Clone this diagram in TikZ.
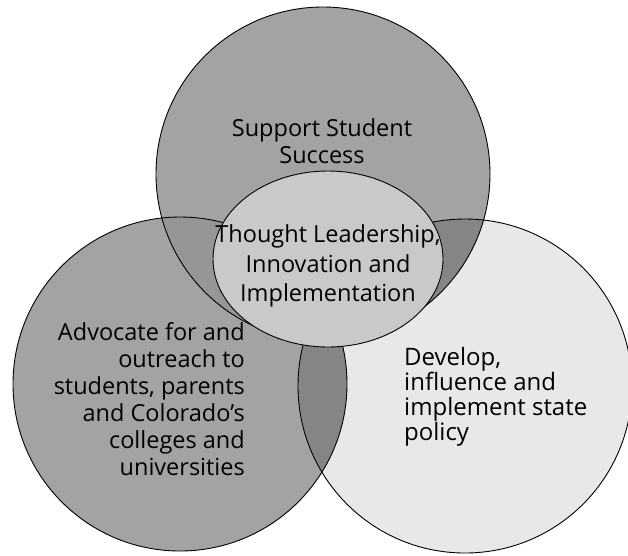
\documentclass[tikz,border=0pt]{standalone}
\usepackage{fontspec}
\setmainfont{Open Sans}
\begin{document}
\begin{tikzpicture}[x=1pt,y=-1pt,
  lbl/.style={inner sep=0pt,font=\fontsize{23.5}{27}\selectfont},
  topfill/.style={fill=black!36},
  leftfill/.style={fill=black!36},
  rightfill/.style={fill=black!9},
  lapfill/.style={fill=black!48},
  tlfill/.style={fill=black!41},
  ellfill/.style={fill=black!21},
  outline/.style={draw=black,line width=0.9pt}]
\useasboundingbox[fill=white] (0,0) rectangle (628,555);
\coordinate (ct) at (323,174);
\coordinate (cl) at (180,384);
\coordinate (cr) at (465,386);
\coordinate (ce) at (328,259);
% base fills
\fill[topfill] (ct) circle[radius=167pt];
\fill[leftfill] (cl) circle[radius=167pt];
\fill[rightfill] (cr) circle[radius=167pt];
% overlaps
\begin{scope}
  \clip (ct) circle[radius=167pt];
  \fill[tlfill] (cl) circle[radius=167pt];
  \fill[lapfill] (cr) circle[radius=167pt];
\end{scope}
\begin{scope}
  \clip (cl) circle[radius=167pt];
  \fill[lapfill] (cr) circle[radius=167pt];
\end{scope}
% outlines of circles
\draw[outline] (ct) circle[radius=167pt];
\draw[outline] (cl) circle[radius=167pt];
\draw[outline] (cr) circle[radius=167pt];
% central ellipse
\fill[ellfill] (ce) ellipse[x radius=115pt,y radius=88pt];
\draw[outline] (ce) ellipse[x radius=115pt,y radius=88pt];
% labels
\node[lbl,align=center] (tS) at (322,141) {Support Student\\Success};
\node[lbl,align=center,font=\fontsize{23.5}{29.5}\selectfont] (tT) at (328,266) {Thought Leadership,\\Innovation and\\Implementation};
\node[lbl,align=right,anchor=east] (tA) at (245,399) {Advocate for and\\outreach to\\students, parents\\and Colorado’s\\colleges and\\universities};
\node[lbl,align=left,anchor=west,font=\fontsize{24}{25}\selectfont] (tD) at (404,397) {Develop,\\influence and\\implement state\\policy};
\end{tikzpicture}
\end{document}
